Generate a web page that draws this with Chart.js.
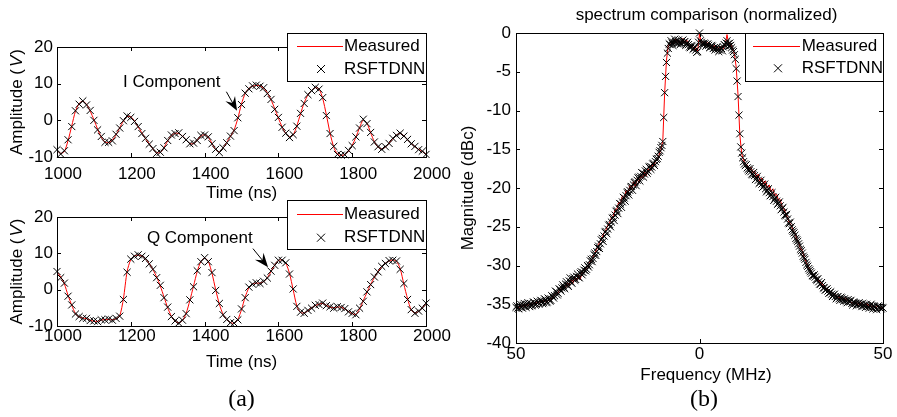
<!DOCTYPE html>
<html><head><meta charset="utf-8">
<script src="https://cdn.jsdelivr.net/npm/chart.js@4.4.1/dist/chart.umd.min.js"></script>
<style>
html,body{margin:0;padding:0;background:#fff;width:897px;height:417px;overflow:hidden}
#wrap{position:relative;width:897px;height:417px}
#wrap canvas{position:absolute;left:0;top:0}
</style></head>
<body><div id="wrap">
<canvas id="c1" width="897" height="417"></canvas>
<canvas id="c2" width="897" height="417"></canvas>
<canvas id="c3" width="897" height="417"></canvas>
</div>
<script>
// ---------- data ----------
const timeNs = Array.from({length: 101}, (_, i) => 1000 + 10 * i);    // sampling grid (ns)
const freqMHz = Array.from({length: 201}, (_, i) => -50 + 0.5 * i);   // measured spectrum grid (MHz)
const freqFine = Array.from({length: 401}, (_, i) => -50 + 0.25 * i); // RSFTDNN spectrum grid (MHz)

const timeTicks = [1000, 1200, 1400, 1600, 1800, 2000];
const ampTicks = [-10, 0, 10, 20];
const freqTicks = [-50, 0, 50];
const freqTickLabels = ['50', '0', '50'];
const magTicks = [-40, -35, -30, -25, -20, -15, -10, -5, 0];
const seriesNames = ['Measured', 'RSFTDNN'];

const iMeasured = [
 -8.2,-9.0,-8.5,-5.5,-1.5,2.5,4.6,5.2,4.4,2.5,
 0.2,-2.4,-4.6,-5.9,-6.1,-5.4,-4.0,-2.0,-0.2,1.0,
 1.0,-0.2,-1.8,-3.4,-5.0,-6.4,-7.8,-8.8,-8.8,-7.4,
 -5.6,-4.2,-3.5,-3.6,-4.3,-5.4,-6.3,-6.4,-5.4,-4.3,
 -3.9,-4.6,-6.3,-8.0,-8.6,-7.6,-6.0,-4.4,-2.6,0.5,
 4.5,7.3,8.7,9.3,9.5,9.4,8.8,7.5,5.6,3.2,
 0.6,-1.8,-3.6,-4.5,-4.0,-1.5,1.8,4.8,6.9,8.2,
 8.9,8.6,6.0,1.5,-3.5,-7.3,-9.2,-9.6,-9.3,-8.4,
 -6.8,-4.6,-2.0,0.1,-0.8,-3.4,-5.8,-7.3,-7.8,-7.3,
 -6.2,-5.0,-4.0,-3.6,-4.2,-5.3,-6.3,-7.2,-7.9,-8.5,
 -9.2];
const iRsftdnn = [
 -8.0,-9.2,-8.3,-5.3,-1.7,2.6,4.4,5.3,4.2,2.7,
 0.0,-2.6,-4.4,-6.0,-6.0,-5.6,-3.8,-2.1,-0.1,1.2,
 0.8,-0.3,-1.7,-3.6,-4.9,-6.5,-7.7,-9.0,-8.7,-7.5,
 -5.5,-4.0,-3.6,-3.4,-4.4,-5.3,-6.4,-6.2,-5.5,-4.1,
 -4.0,-4.5,-6.4,-7.9,-8.8,-7.5,-6.1,-4.3,-2.8,0.7,
 4.3,7.4,8.6,9.4,9.6,9.3,8.9,7.3,5.7,3.0,
 0.8,-1.9,-3.5,-4.7,-3.9,-1.6,1.9,4.6,7.0,8.1,
 9.0,8.5,6.2,1.3,-3.6,-7.1,-9.3,-9.5,-9.4,-8.2,
 -6.9,-4.5,-2.1,0.3,-0.9,-3.3,-5.9,-7.2,-7.9,-7.2,
 -6.3,-4.9,-4.1,-3.5,-4.3,-5.2,-6.4,-7.1,-8.0,-8.4,
 -9.3];
const qMeasured = [
 4.9,3.5,1.6,-1.6,-4.3,-6.6,-7.5,-7.8,-8.0,-8.4,
 -8.7,-8.7,-8.4,-8.2,-8.2,-8.3,-8.0,-7.2,-2.5,5.0,
 8.3,9.3,9.5,9.3,8.5,7.2,5.5,3.5,1.0,-2.0,
 -5.0,-7.3,-8.7,-9.1,-8.5,-6.5,-3.0,1.0,5.0,7.8,
 8.7,7.8,4.5,0.0,-4.0,-6.8,-8.3,-9.0,-9.3,-8.2,
 -5.5,-2.0,0.5,1.6,1.8,1.8,2.2,3.3,5.0,6.8,
 8.0,8.2,7.3,4.5,0.0,-4.5,-6.3,-6.4,-5.8,-5.0,
 -4.4,-4.0,-3.8,-4.3,-4.8,-5.0,-4.8,-4.8,-5.3,-6.0,
 -6.6,-6.8,-5.3,-3.0,-0.8,1.5,3.3,5.0,6.3,7.3,
 7.9,8.2,7.8,5.8,1.5,-2.5,-5.6,-6.4,-6.0,-5.0,
 -3.8];
const qRsftdnn = [
 5.0,3.3,1.8,-1.8,-4.2,-6.7,-7.4,-7.9,-7.9,-8.5,
 -8.6,-8.8,-8.3,-8.3,-8.1,-8.4,-7.9,-7.3,-2.7,4.8,
 8.4,9.2,9.6,9.2,8.6,7.1,5.6,3.3,1.2,-2.2,
 -4.8,-7.4,-8.6,-9.2,-8.4,-6.6,-2.8,0.8,5.2,7.7,
 8.8,7.7,4.7,-0.2,-3.8,-6.9,-8.2,-9.1,-9.2,-8.3,
 -5.3,-2.2,0.7,1.5,1.9,1.7,2.3,3.2,5.1,6.7,
 8.1,8.1,7.4,4.3,0.2,-4.6,-6.2,-6.5,-5.7,-5.1,
 -4.3,-4.1,-3.7,-4.4,-4.7,-5.1,-4.7,-4.9,-5.2,-6.1,
 -6.5,-6.9,-5.1,-3.2,-0.6,1.4,3.5,4.9,6.4,7.2,
 8.0,8.1,7.9,5.6,1.7,-2.7,-5.5,-6.5,-5.9,-5.1,
 -3.7];
const specMeasured = [
 -35.6,-35.3,-35.4,-35.1,-35.3,-35.0,-35.2,-34.9,-35.1,-34.8,
 -35.0,-34.7,-34.9,-34.6,-34.8,-34.5,-34.7,-34.6,-34.5,-34.3,
 -34.2,-33.8,-33.6,-33.5,-33.0,-33.2,-32.6,-32.9,-32.2,-32.6,
 -31.8,-32.3,-31.5,-32.0,-31.2,-31.8,-30.9,-31.0,-30.4,-30.2,
 -29.7,-29.4,-28.9,-28.4,-27.9,-27.3,-26.8,-26.4,-25.8,-25.4,
 -24.8,-24.5,-23.8,-23.6,-22.8,-22.7,-21.8,-22.0,-21.0,-21.4,
 -20.3,-20.8,-19.7,-20.2,-19.2,-19.8,-18.8,-19.3,-18.4,-18.8,
 -17.9,-18.4,-17.5,-17.8,-17.0,-17.2,-16.5,-16.4,-15.7,-15.0,
 -13.9,-7.8,-3.5,-1.6,-1.3,-1.1,-1.4,-0.8,-1.2,-1.0,
 -1.5,-0.7,-1.3,-0.9,-1.6,-1.8,-1.5,-2.2,-1.9,-2.3,
 -0.1,-1.3,-1.1,-1.6,-1.2,-1.7,-1.5,-2.0,-1.6,-2.1,
 -1.8,-2.3,-1.7,-2.0,-1.5,-0.2,-1.6,-1.4,-2.0,-2.7,
 -4.4,-8.0,-13.2,-15.6,-16.4,-16.9,-17.0,-17.6,-17.3,-18.0,
 -17.8,-18.6,-18.2,-19.1,-18.7,-19.5,-19.1,-20.0,-19.6,-20.5,
 -20.1,-21.0,-20.8,-21.6,-21.5,-22.4,-22.6,-23.4,-23.8,-24.5,
 -24.8,-25.5,-25.8,-26.6,-27.0,-27.8,-28.1,-28.9,-29.5,-30.0,
 -30.4,-30.9,-31.2,-31.4,-31.7,-32.0,-32.2,-32.5,-32.7,-33.0,
 -33.1,-33.4,-33.5,-33.7,-33.8,-34.0,-34.1,-34.2,-34.3,-34.2,
 -34.4,-34.5,-34.6,-34.8,-34.9,-34.7,-34.9,-35.0,-34.8,-35.0,
 -35.1,-34.9,-35.2,-35.1,-35.3,-35.2,-35.4,-35.3,-35.5,-35.4,
 -35.6];
const specRsftdnn = [
 -35.4,-35.2,-35.5,-35.6,-35.2,-35.0,-35.4,-35.5,-35.1,-34.9,-35.3,-35.4,-35.0,-34.8,-35.2,-35.3,-34.9,-35.2,-35.1,-34.7,
 -34.8,-35.1,-35.0,-34.6,-34.7,-35.0,-34.9,-34.5,-34.6,-34.9,-34.8,-34.3,-34.4,-34.8,-34.7,-34.2,-34.3,-34.6,-34.5,-33.9,
 -34.0,-34.2,-33.9,-33.3,-33.4,-33.8,-33.6,-33.0,-33.1,-33.3,-32.9,-32.5,-32.8,-33.0,-32.4,-32.1,-32.5,-32.7,-32.0,-31.6,
 -32.1,-32.3,-31.7,-31.5,-31.9,-31.8,-31.4,-31.1,-31.5,-31.6,-31.0,-30.8,-31.2,-30.9,-30.6,-30.3,-30.7,-30.5,-30.0,-30.2,
 -29.9,-29.4,-29.2,-29.5,-29.1,-28.6,-28.4,-28.7,-28.2,-27.7,-27.5,-27.8,-27.2,-26.7,-26.5,-26.9,-26.2,-25.7,-25.6,-25.9,
 -25.3,-24.8,-24.7,-25.0,-24.4,-23.9,-23.8,-24.2,-23.5,-23.0,-22.9,-23.3,-22.6,-22.0,-22.1,-22.5,-21.8,-21.2,-21.3,-21.7,
 -21.0,-20.6,-20.5,-20.9,-20.3,-19.9,-19.8,-20.3,-19.6,-19.3,-19.2,-19.7,-19.0,-18.7,-18.6,-19.1,-18.5,-18.0,-18.1,-18.6,
 -18.2,-17.8,-17.6,-18.1,-17.8,-17.3,-17.2,-17.6,-17.3,-16.9,-16.8,-17.1,-16.6,-16.3,-16.2,-15.9,-15.4,-15.2,-14.8,-14.5,
 -14.0,-10.9,-7.7,-5.6,-3.8,-2.6,-2.0,-1.4,-1.5,-1.0,-1.3,-1.6,-1.2,-0.8,-1.1,-1.3,-1.4,-0.9,-1.2,-1.5,
 -1.3,-1.0,-0.9,-1.2,-1.1,-1.6,-1.4,-1.2,-1.5,-1.8,-1.9,-1.6,-1.7,-2.1,-2.0,-1.8,-2.2,-2.5,-2.4,-1.2,
 0.0,-1.0,-1.2,-1.4,-1.5,-1.3,-1.4,-1.7,-1.5,-1.4,-1.6,-1.9,-1.8,-1.6,-1.7,-2.0,-1.9,-2.2,-2.0,-1.8,
 -2.1,-2.4,-2.2,-1.9,-2.0,-2.3,-1.8,-1.5,-1.6,-1.3,-1.0,-1.4,-1.7,-1.3,-1.6,-1.9,-2.2,-2.4,-2.8,-3.4,
 -4.6,-6.2,-8.2,-10.6,-13.0,-14.7,-15.5,-16.1,-16.6,-16.9,-17.1,-17.0,-17.4,-17.6,-17.8,-17.5,-17.9,-18.2,-18.3,-18.0,
 -18.4,-18.9,-18.8,-18.5,-19.0,-19.4,-19.3,-19.0,-19.5,-19.9,-19.8,-19.5,-20.1,-20.5,-20.3,-20.1,-20.6,-21.0,-20.9,-20.6,
 -21.1,-21.6,-21.4,-21.2,-21.7,-22.1,-22.0,-21.8,-22.3,-22.8,-22.7,-22.5,-23.1,-23.5,-23.6,-23.4,-24.0,-24.5,-24.6,-24.4,
 -25.0,-25.4,-25.6,-25.8,-26.1,-26.5,-26.7,-26.9,-27.2,-27.5,-27.9,-28.1,-28.4,-28.8,-29.0,-29.2,-29.6,-29.9,-30.1,-30.4,
 -30.6,-30.8,-31.0,-31.3,-31.4,-31.2,-31.5,-31.8,-31.9,-31.7,-32.1,-32.4,-32.4,-32.2,-32.6,-32.9,-32.9,-33.2,-33.1,-33.0,
 -33.3,-33.6,-33.5,-33.4,-33.7,-34.0,-33.8,-33.7,-34.0,-34.3,-34.1,-34.0,-34.3,-34.5,-34.1,-34.2,-34.4,-34.6,-34.3,-34.5,
 -34.6,-34.8,-34.4,-34.6,-34.7,-34.5,-34.9,-35.1,-34.7,-34.8,-34.9,-35.2,-35.0,-34.9,-34.8,-35.0,-35.0,-35.3,-34.9,-35.1,
 -35.2,-35.4,-35.0,-35.2,-35.3,-35.5,-35.2,-35.0,-35.4,-35.6,-35.2,-35.3,-35.5,-35.7,-35.3,-35.2,-35.4,-35.5,-35.6,-35.4,
 -35.5];

// ---------- rendering ----------
const FONT = "'Liberation Sans', Arial, Helvetica, sans-serif";
const SERIF = "'Liberation Serif', 'Times New Roman', serif";
const FS = 17;
const RED = '#ff0000';
Chart.defaults.font.family = FONT;
Chart.defaults.font.size = FS;
Chart.defaults.color = '#000';
Chart.defaults.animation = false;

function pts(xs, ys) { return xs.map((x, i) => ({x: x, y: ys[i]})); }

function drawX(ctx, x, y, h) {
  ctx.beginPath();
  ctx.moveTo(x - h, y - h); ctx.lineTo(x + h, y + h);
  ctx.moveTo(x + h, y - h); ctx.lineTo(x - h, y + h);
  ctx.stroke();
}

const figurePlugin = {
  id: 'figure',
  afterDraw(chart, _args, o) {
    const {ctx, chartArea: a} = chart;
    const xs = chart.scales.x, ys = chart.scales.y;
    const L = Math.round(a.left), R = Math.round(a.right), T = Math.round(a.top), B = Math.round(a.bottom);
    const cx = (a.left + a.right) / 2, cy = (a.top + a.bottom) / 2;
    ctx.save();
    ctx.strokeStyle = '#000'; ctx.fillStyle = '#000'; ctx.lineWidth = 1;
    // inward tick marks on all four sides
    ctx.beginPath();
    xs.ticks.forEach(t => {
      const p = Math.round(xs.getPixelForValue(t.value)) + 0.5;
      ctx.moveTo(p, B); ctx.lineTo(p, B - 4);
      ctx.moveTo(p, T); ctx.lineTo(p, T + 4);
    });
    ys.ticks.forEach(t => {
      const p = Math.round(ys.getPixelForValue(t.value)) + 0.5;
      ctx.moveTo(L, p); ctx.lineTo(L + 4, p);
      ctx.moveTo(R, p); ctx.lineTo(R - 4, p);
    });
    ctx.stroke();
    ctx.strokeRect(L + 0.5, T + 0.5, R - L, B - T);

    // annotations (text + arrow), positioned in data units
    (o.annotations || []).forEach(an => {
      ctx.font = FS + 'px ' + FONT; ctx.textAlign = 'center'; ctx.textBaseline = 'middle';
      ctx.fillStyle = '#000'; ctx.strokeStyle = '#000';
      ctx.fillText(an.label, xs.getPixelForValue(an.text[0]), ys.getPixelForValue(an.text[1]));
      const x0 = xs.getPixelForValue(an.from[0]), y0 = ys.getPixelForValue(an.from[1]);
      const x1 = xs.getPixelForValue(an.to[0]), y1 = ys.getPixelForValue(an.to[1]);
      const d = Math.hypot(x1 - x0, y1 - y0), ux = (x1 - x0) / d, uy = (y1 - y0) / d, nx = -uy, ny = ux;
      ctx.beginPath(); ctx.moveTo(x0, y0); ctx.lineTo(x1 - ux * 8, y1 - uy * 8); ctx.stroke();
      ctx.beginPath();
      ctx.moveTo(x1, y1);
      ctx.lineTo(x1 - ux * 14 + nx * 5.5, y1 - uy * 14 + ny * 5.5);
      ctx.lineTo(x1 - ux * 9, y1 - uy * 9);
      ctx.lineTo(x1 - ux * 14 - nx * 5.5, y1 - uy * 14 - ny * 5.5);
      ctx.closePath(); ctx.fill();
    });

    // legend box
    if (o.legend) {
      const g = o.legend;
      const bx = R - g.w, by = T + g.dy;
      ctx.fillStyle = '#fff'; ctx.fillRect(bx, by, g.w, g.h);
      ctx.strokeStyle = '#000'; ctx.lineWidth = 1; ctx.strokeRect(bx + 0.5, by + 0.5, g.w, g.h);
      const ds = chart.data.datasets;
      const lineDs = ds[1], markDs = ds[0];
      const r1 = Math.round(by + g.row1) + 0.5, r2 = by + g.row2;
      ctx.save();
      ctx.strokeStyle = RED; ctx.lineWidth = 1.2;
      ctx.beginPath(); ctx.moveTo(bx + g.lineX0, r1); ctx.lineTo(bx + g.lineX1, r1); ctx.stroke();
      ctx.restore();
      ctx.strokeStyle = '#000'; ctx.lineWidth = 1;
      drawX(ctx, bx + g.markX, r2, 4);
      ctx.fillStyle = '#000'; ctx.font = FS + 'px ' + FONT; ctx.textAlign = 'left'; ctx.textBaseline = 'middle';
      ctx.fillText(lineDs.label, bx + g.textX, r1);
      ctx.fillText(markDs.label, bx + g.textX, r2);
    }

    // titles
    ctx.fillStyle = '#000'; ctx.font = FS + 'px ' + FONT; ctx.textAlign = 'center'; ctx.textBaseline = 'middle';
    if (o.xTitle) ctx.fillText(o.xTitle, cx + (o.xTitleDx || 0), B + o.xTitleDy);
    if (o.title) ctx.fillText(o.title, cx + o.titleDx, T + o.titleDy);
    if (o.yTitle) {
      ctx.save();
      ctx.translate(L + o.yTitleDx, cy);
      ctx.rotate(-Math.PI / 2);
      let total = 0;
      const ws = o.yTitle.map(p => { ctx.font = (p.it ? 'italic ' : '') + FS + 'px ' + FONT; const w = ctx.measureText(p.t).width + (p.gap || 0); total += w; return w; });
      let x = -total / 2; ctx.textAlign = 'left';
      o.yTitle.forEach((p, i) => { ctx.font = (p.it ? 'italic ' : '') + FS + 'px ' + FONT; ctx.fillText(p.t, x + (p.gap || 0), 0); x += ws[i]; });
      ctx.restore();
    }
    if (o.panel) {
      ctx.font = '24px ' + SERIF; ctx.textAlign = 'center'; ctx.textBaseline = 'middle';
      ctx.fillText(o.panel, cx + o.panelDx, B + o.panelDy);
    }
    ctx.restore();
  }
};

function makeChart(id, c) {
  const area = c.area;
  return new Chart(document.getElementById(id), {
    type: 'scatter',
    data: {
      datasets: [
        { label: seriesNames[1], data: c.markers, showLine: false, pointStyle: 'crossRot',
          pointRadius: 5, pointBorderWidth: 1, pointBorderColor: '#000', pointBackgroundColor: '#000',
          borderColor: '#000', clip: false },
        { label: seriesNames[0], data: c.line, showLine: true, borderColor: RED, borderWidth: 1,
          pointRadius: 0, tension: c.tension, fill: false }
      ]
    },
    options: {
      responsive: false, animation: false, events: [],
      layout: { padding: { left: area.left - c.yW, top: area.top, right: 897 - area.right, bottom: 417 - area.bottom - c.xH } },
      plugins: { legend: { display: false }, tooltip: { enabled: false }, figure: c.fig },
      scales: {
        x: { type: 'linear', min: c.xMin, max: c.xMax,
          afterBuildTicks: s => { s.ticks = c.xTicks.map(v => ({value: v})); },
          ticks: { font: {size: FS, family: FONT}, color: '#000', padding: c.xPad, labelOffset: c.xLabelOffset || 0,
                   maxRotation: 0, autoSkip: false, callback: c.xLabel },
          grid: { display: false, drawTicks: false }, border: { display: false },
          afterFit: s => { s.height = c.xH; } },
        y: { type: 'linear', min: c.yMin, max: c.yMax,
          afterBuildTicks: s => { s.ticks = c.yTicks.map(v => ({value: v})); },
          ticks: { font: {size: FS, family: FONT}, color: '#000', padding: c.yPad, autoSkip: false,
                   callback: v => String(v) },
          grid: { display: false, drawTicks: false }, border: { display: false },
          afterFit: s => { s.width = c.yW; } }
      }
    },
    plugins: [figurePlugin]
  });
}

const ampTitle = [{t: 'Amplitude ('}, {t: 'V', it: true, gap: 2}, {t: ')', gap: 1}];

makeChart('c1', {
  area: {left: 57, top: 47, right: 426, bottom: 157}, yW: 57, xH: 50,
  xMin: 1000, xMax: 2000, xTicks: timeTicks, xLabel: v => String(v), xPad: 7, xLabelOffset: 6,
  yMin: -10, yMax: 20, yTicks: ampTicks, yPad: 4, tension: 0.25,
  markers: pts(timeNs, iRsftdnn), line: pts(timeNs, iMeasured),
  fig: {
    xTitle: 'Time (ns)', xTitleDy: 36, yTitle: ampTitle, yTitleDx: -39.5,
    legend: {w: 139, h: 48, dy: -14, lineX0: 10, lineX1: 56, textX: 57, markX: 34, row1: 12.7, row2: 36},
    annotations: [{label: 'I Component', text: [1311, 10.5], from: [1459, 7.8], to: [1488, 2.6]}]
  }
});

makeChart('c2', {
  area: {left: 57, top: 217, right: 426, bottom: 326}, yW: 57, xH: 50,
  xMin: 1000, xMax: 2000, xTicks: timeTicks, xLabel: v => String(v), xPad: 0, xLabelOffset: 6,
  yMin: -10, yMax: 20, yTicks: ampTicks, yPad: 4, tension: 0.25,
  markers: pts(timeNs, qRsftdnn), line: pts(timeNs, qMeasured),
  fig: {
    xTitle: 'Time (ns)', xTitleDy: 36, yTitle: ampTitle, yTitleDx: -39.5,
    legend: {w: 139, h: 49, dy: -17, lineX0: 10, lineX1: 56, textX: 57, markX: 34, row1: 14, row2: 37.7},
    annotations: [{label: 'Q Component', text: [1387, 14.0], from: [1531, 11.3], to: [1572, 6.2]}],
    panel: '(a)', panelDx: 0, panelDy: 74
  }
});

makeChart('c3', {
  area: {left: 516, top: 33, right: 883, bottom: 343}, yW: 66, xH: 40,
  xMin: -50, xMax: 50, xTicks: freqTicks, xLabel: v => freqTickLabels[freqTicks.indexOf(v)], xPad: 1, xLabelOffset: 0,
  yMin: -40, yMax: 0, yTicks: magTicks, yPad: 5, tension: 0,
  markers: pts(freqFine, specRsftdnn), line: pts(freqMHz, specMeasured),
  fig: {
    xTitle: 'Frequency (MHz)', xTitleDy: 32, xTitleDx: 6.5,
    yTitle: [{t: 'Magnitude (dBc)'}], yTitleDx: -47.5,
    title: 'spectrum comparison (normalized)', titleDx: 7, titleDy: -18,
    legend: {w: 138, h: 48, dy: 0, lineX0: 8, lineX1: 55, textX: 56.7, markX: 33, row1: 13, row2: 35.3},
    panel: '(b)', panelDx: 4.5, panelDy: 57
  }
});
</script>
</body></html>
